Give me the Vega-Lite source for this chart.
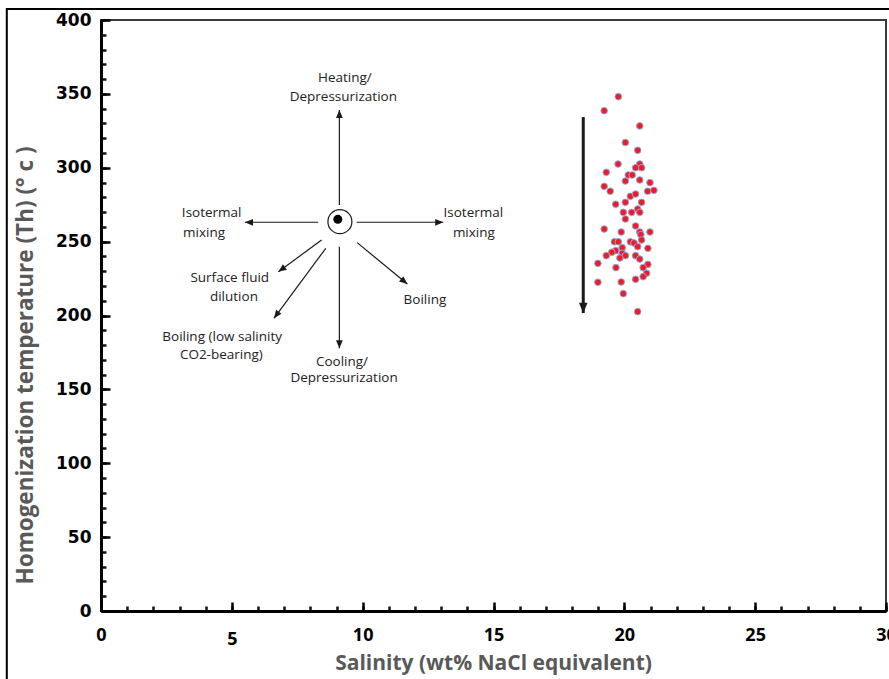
{
  "$schema": "https://vega.github.io/schema/vega-lite/v6.json",
  "width": 785,
  "height": 591,
  "autosize": {"type": "none"},
  "padding": {"left": 101, "top": 20, "right": 3, "bottom": 68},
  "background": "white",
  "config": {
    "view": {"stroke": "#3a3a3a", "strokeWidth": 2},
    "font": "Open Sans"
  },
  "datasets": {
    "pts": [
      {"s": 19.77, "t": 348.1}, {"s": 19.23, "t": 338.6}, {"s": 20.59, "t": 328.3}, {"s": 20.04, "t": 317.1},
      {"s": 20.51, "t": 311.8}, {"s": 19.76, "t": 302.5}, {"s": 20.59, "t": 302.5}, {"s": 20.43, "t": 300.0},
      {"s": 20.66, "t": 300.0}, {"s": 19.31, "t": 296.9}, {"s": 20.15, "t": 295.1}, {"s": 20.30, "t": 295.1},
      {"s": 19.23, "t": 287.4}, {"s": 20.04, "t": 291.0}, {"s": 20.59, "t": 291.7}, {"s": 20.98, "t": 289.9},
      {"s": 19.46, "t": 284.1}, {"s": 20.89, "t": 284.1}, {"s": 21.13, "t": 284.7}, {"s": 20.23, "t": 280.7},
      {"s": 20.43, "t": 282.2}, {"s": 20.04, "t": 276.6}, {"s": 20.66, "t": 276.6}, {"s": 19.67, "t": 275.3},
      {"s": 20.51, "t": 272.1}, {"s": 19.96, "t": 269.8}, {"s": 20.28, "t": 269.8}, {"s": 20.59, "t": 269.8},
      {"s": 20.04, "t": 265.3}, {"s": 20.43, "t": 260.6}, {"s": 19.23, "t": 258.5}, {"s": 19.88, "t": 256.5},
      {"s": 20.59, "t": 256.5}, {"s": 20.98, "t": 256.5}, {"s": 20.63, "t": 254.7}, {"s": 19.62, "t": 249.9},
      {"s": 19.77, "t": 249.9}, {"s": 20.23, "t": 249.9}, {"s": 20.66, "t": 251.1}, {"s": 20.37, "t": 249.1},
      {"s": 19.92, "t": 245.9}, {"s": 20.51, "t": 246.6}, {"s": 20.90, "t": 245.5}, {"s": 19.67, "t": 243.9},
      {"s": 19.52, "t": 242.8}, {"s": 19.31, "t": 240.5}, {"s": 19.92, "t": 242.1}, {"s": 20.04, "t": 240.5},
      {"s": 19.83, "t": 238.9}, {"s": 20.43, "t": 240.5}, {"s": 20.59, "t": 238.2}, {"s": 18.99, "t": 235.3},
      {"s": 20.90, "t": 234.6}, {"s": 19.68, "t": 232.4}, {"s": 20.72, "t": 232.4}, {"s": 20.85, "t": 228.6},
      {"s": 20.72, "t": 226.3}, {"s": 20.43, "t": 224.5}, {"s": 18.99, "t": 222.5}, {"s": 19.88, "t": 222.7},
      {"s": 19.96, "t": 214.8}, {"s": 20.51, "t": 202.6}
    ],
    "arrows": [
      {"name": "heating", "x": 9.11, "y": 274.8, "x2": 9.11, "y2": 339.1, "kind": "small"},
      {"name": "cooling", "x": 9.11, "y": 246.6, "x2": 9.11, "y2": 177.8, "kind": "small"},
      {"name": "mix-left", "x": 8.30, "y": 263.1, "x2": 5.50, "y2": 263.1, "kind": "small"},
      {"name": "mix-right", "x": 9.77, "y": 263.1, "x2": 13.08, "y2": 263.1, "kind": "small"},
      {"name": "dilution", "x": 8.43, "y": 251.1, "x2": 6.78, "y2": 229.6, "kind": "small"},
      {"name": "boiling-co2", "x": 8.59, "y": 245.5, "x2": 6.61, "y2": 198.1, "kind": "small"},
      {"name": "boiling", "x": 9.79, "y": 249.3, "x2": 11.71, "y2": 221.3, "kind": "small"},
      {"name": "trend", "x": 18.43, "y": 334.3, "x2": 18.43, "y2": 201.7, "kind": "big"}
    ],
    "labels": [
      {"label": "Heating/", "x": 9.32, "y": 360.9},
      {"label": "Depressurization", "x": 9.26, "y": 347.7},
      {"label": "Isotermal", "x": 4.23, "y": 269.2},
      {"label": "mixing", "x": 3.94, "y": 255.6},
      {"label": "Isotermal", "x": 14.23, "y": 269.2},
      {"label": "mixing", "x": 14.25, "y": 255.6},
      {"label": "Surface fluid", "x": 4.92, "y": 225.2},
      {"label": "dilution", "x": 5.08, "y": 212.7},
      {"label": "Boiling", "x": 12.38, "y": 210.5},
      {"label": "Boiling (low salinity", "x": 4.63, "y": 185.7},
      {"label": "CO2-bearing)", "x": 4.60, "y": 173.3},
      {"label": "Cooling/", "x": 9.21, "y": 168.7},
      {"label": "Depressurization", "x": 9.29, "y": 157.5}
    ],
    "center": [{"x": 9.13, "y": 263.5}],
    "dot": [{"x": 9.05, "y": 265.1}]
  },
  "resolve": {"axis": {"x": "independent", "y": "independent"}},
  "layer": [
    {
      "data": {"values": [{}]},
      "mark": {"type": "rect", "fill": null, "filled": false, "stroke": "black", "strokeWidth": 2, "clip": false},
      "encoding": {
        "x": {"datum": -3.6, "type": "quantitative", "scale": {"domain": [0, 30], "nice": false, "zero": false}, "axis": null},
        "x2": {"datum": 33},
        "y": {"datum": 407.4, "type": "quantitative", "scale": {"domain": [0, 400], "nice": false, "zero": false}, "axis": null},
        "y2": {"datum": -80}
      }
    },
    {
      "data": {"name": "arrows"},
      "mark": {"type": "rule", "color": "#1a1a1a"},
      "encoding": {
        "x": {"field": "x", "type": "quantitative", "scale": {"domain": [0, 30], "nice": false, "zero": false},
          "axis": {"orient": "bottom", "values": [0,1,2,3,4,5,6,7,8,9,10,11,12,13,14,15,16,17,18,19,20,21,22,23,24,25,26,27,28,29,30],
            "labels": false, "domain": false, "grid": false, "title": null, "tickSize": -5, "tickWidth": 2.5, "tickColor": "#111"}},
        "x2": {"field": "x2"},
        "y": {"field": "y", "type": "quantitative", "scale": {"domain": [0, 400], "nice": false, "zero": false},
          "axis": {"orient": "left", "values": [0,10,20,30,40,50,60,70,80,90,100,110,120,130,140,150,160,170,180,190,200,210,220,230,240,250,260,270,280,290,300,310,320,330,340,350,360,370,380,390,400],
            "labels": false, "domain": false, "grid": false, "title": null, "tickSize": -5, "tickWidth": 2.5, "tickColor": "#111"}},
        "y2": {"field": "y2"},
        "strokeWidth": {"condition": {"test": "datum.kind === 'big'", "value": 3}, "value": 1.2}
      }
    },
    {
      "data": {"name": "arrows"},
      "transform": [
        {"calculate": "atan2((datum.x2 - datum.x) * 26.167, (datum.y2 - datum.y) * 1.4775) * 180 / PI", "as": "angle"}
      ],
      "mark": {"type": "point", "filled": true, "color": "#1a1a1a", "opacity": 1, "shape": "M0,0L-0.42,1L0.42,1Z"},
      "encoding": {
        "x": {"field": "x2", "type": "quantitative", "scale": {"domain": [0, 30], "nice": false, "zero": false}, "axis": null},
        "y": {"field": "y2", "type": "quantitative", "scale": {"domain": [0, 400], "nice": false, "zero": false}, "axis": null},
        "angle": {"field": "angle", "type": "quantitative", "scale": null},
        "size": {"condition": {"test": "datum.kind === 'big'", "value": 420}, "value": 260}
      }
    },
    {
      "data": {"name": "center"},
      "mark": {"type": "point", "shape": "circle", "filled": false, "stroke": "#1a1a1a", "strokeWidth": 1.2, "size": 576, "opacity": 1},
      "encoding": {
        "x": {"field": "x", "type": "quantitative", "scale": {"domain": [0, 30], "nice": false, "zero": false}, "axis": null},
        "y": {"field": "y", "type": "quantitative", "scale": {"domain": [0, 400], "nice": false, "zero": false}, "axis": null}
      }
    },
    {
      "data": {"name": "dot"},
      "mark": {"type": "point", "shape": "circle", "filled": true, "color": "black", "size": 81, "opacity": 1},
      "encoding": {
        "x": {"field": "x", "type": "quantitative", "scale": {"domain": [0, 30], "nice": false, "zero": false}, "axis": null},
        "y": {"field": "y", "type": "quantitative", "scale": {"domain": [0, 400], "nice": false, "zero": false}, "axis": null}
      }
    },
    {
      "data": {"name": "labels"},
      "mark": {"type": "text", "font": "Open Sans", "fontSize": 13.5, "color": "#222", "align": "center", "baseline": "middle"},
      "encoding": {
        "x": {"field": "x", "type": "quantitative", "scale": {"domain": [0, 30], "nice": false, "zero": false}, "axis": null},
        "y": {"field": "y", "type": "quantitative", "scale": {"domain": [0, 400], "nice": false, "zero": false}, "axis": null},
        "text": {"field": "label"}
      }
    },
    {
      "data": {"name": "pts"},
      "mark": {"type": "point", "shape": "circle", "filled": true, "fill": "#ee1c25", "stroke": "#8fa9e0", "strokeWidth": 1, "size": 44, "opacity": 1},
      "encoding": {
        "x": {"field": "s", "type": "quantitative", "scale": {"domain": [0, 30], "nice": false, "zero": false},
          "axis": {"orient": "bottom", "values": [0, 5, 10, 15, 20, 25, 30], "grid": false,
            "domain": true, "domainColor": "black", "domainWidth": 3,
            "tickSize": -9, "tickWidth": 2.5, "tickColor": "black",
            "labelFont": "Open Sans", "labelFontWeight": "bold", "labelFontSize": 18, "labelColor": "black",
            "labelPadding": {"condition": {"test": "datum.value === 5", "value": 28}, "value": 24}, "labelFlush": false, "labelOverlap": false,
            "title": "Salinity (wt% NaCl equivalent)", "titleFont": "Open Sans", "titleFontSize": 21, "titleFontWeight": "bold",
            "titleColor": "#595959", "titleX": 392, "titleY": 52, "titleBaseline": "middle", "titleAnchor": null, "titleAlign": "center"}},
        "y": {"field": "t", "type": "quantitative", "scale": {"domain": [0, 400], "nice": false, "zero": false},
          "axis": {"orient": "left", "values": [0, 50, 100, 150, 200, 250, 300, 350, 400], "grid": false,
            "domain": true, "domainColor": "black", "domainWidth": 3,
            "tickSize": -9, "tickWidth": 2.5, "tickColor": "black",
            "labelFont": "DejaVu Sans", "labelFontWeight": "bold", "labelFontSize": 17, "labelColor": "black",
            "labelPadding": 19, "labelFlush": false, "labelOverlap": false,
            "title": "Homogenization temperature (Th) (° c )", "titleFont": "Open Sans", "titleFontSize": 22.5, "titleFontWeight": "bold",
            "titleColor": "#595959", "titleX": -76, "titleY": 345, "titleAngle": -90, "titleBaseline": "middle", "titleAlign": "center", "titleAnchor": null}}
      }
    }
  ]
}
